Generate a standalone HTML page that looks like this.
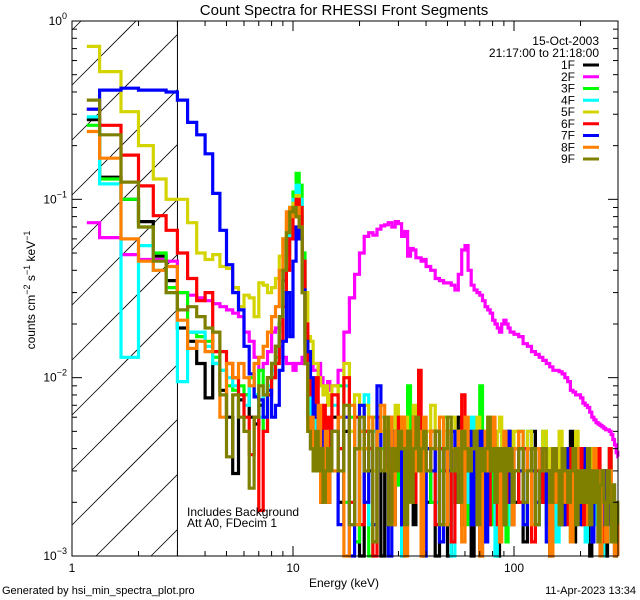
<!DOCTYPE html>
<html><head><meta charset="utf-8"><style>
html,body{margin:0;padding:0;background:#fff}
svg{display:block;font-family:"Liberation Sans",sans-serif}
</style></head><body>
<svg id="chart" width="640" height="600" viewBox="0 0 640 600" xmlns="http://www.w3.org/2000/svg">
<text x="344" y="15" font-size="15" text-anchor="middle">Count Spectra for RHESSI Front Segments</text>
<g id="hatch"></g>
<g id="series"></g>
<g id="axes"></g>
<text transform="translate(35,290) rotate(-90)" font-size="12" text-anchor="middle">counts cm<tspan dy="-5" font-size="9">−2</tspan><tspan dy="5"> s</tspan><tspan dy="-5" font-size="9">−1</tspan><tspan dy="5"> keV</tspan><tspan dy="-5" font-size="9">−1</tspan></text>
<text x="344" y="587" font-size="12" text-anchor="middle">Energy (keV)</text>
<text x="2" y="594" font-size="11">Generated by hsi_min_spectra_plot.pro</text>
<text x="636" y="594" font-size="11" text-anchor="end">11-Apr-2023 13:34</text>
<text x="187" y="516" font-size="12">Includes Background</text>
<text x="187" y="527" font-size="12">Att A0, FDecim 1</text>
<text x="599" y="45" font-size="12" text-anchor="end">15-Oct-2003</text>
<text x="599" y="57" font-size="12" text-anchor="end">21:17:00 to 21:18:00</text>
<g id="legend"></g>
</svg>
<script>
// ---- data ----
const seriesNames = ["1F","2F","3F","4F","5F","6F","7F","8F","9F"];
const seriesColors = ["#000000","#ff00ff","#00ff00","#00ffff","#d4d400","#ff0000","#0000ff","#ff8000","#808000"];
// low-energy bins: first bin 1.17-1.33, then 1/3 keV bins to 15 keV (42 bins)
const lowBinStart = 1.1667;
const lowBinStep = 1/3;
// high-energy bin groups: [start, end, step]
const highBinGroups = [[15,40,1],[40,100,2],[100,300,5]];
const highUnit = 0.001; // high-energy values are given in units of 1e-3
const low1F = [0.28,0.133,0.10,0.075,0.048,0.035,0.019,0.016,0.012,0.0077,0.012,0.0085,0.006,0.0029,0.0075,0.008,0.006,0.0055,0.007,0.008,0.010,0.012,0.015,0.020,0.035,0.060,0.08,0.09,0.09,0.08,0.035,0.012,0.006,0.004,0.003,0.005,0.004,0.002,0.003,0.004,0.002,0.003];
const low2F = [0.074,0.061,0.049,0.046,0.046,0.045,0.030,0.029,0.028,0.027,0.026,0.025,0.024,0.023,0.022,0.018,0.016,0.013,0.011,0.012,0.014,0.018,0.019,0.015,0.013,0.012,0.012,0.011,0.012,0.012,0.013,0.012,0.011,0.012,0.011,0.011,0.012,0.010,0.009,0.009,0.0095,0.0085];
const low3F = [0.26,0.13,0.10,0.07,0.05,0.032,0.030,0.018,0.017,0.016,0.013,0.011,0.009,0.0085,0.009,0.008,0.010,0.008,0.011,0.005,0.009,0.010,0.013,0.020,0.040,0.06,0.09,0.11,0.14,0.12,0.05,0.015,0.007,0.005,0.004,0.006,0.003,0.005,0.004,0.003,0.005,0.003];
const low4F = [0.29,0.122,0.013,0.055,0.04,0.030,0.0095,0.018,0.018,0.015,0.012,0.011,0.010,0.009,0.008,0.007,0.009,0.008,0.006,0.008,0.009,0.011,0.014,0.018,0.030,0.050,0.08,0.10,0.12,0.10,0.045,0.015,0.008,0.006,0.005,0.006,0.004,0.006,0.005,0.003,0.004,0.003];
const low5F = [0.72,0.52,0.31,0.20,0.13,0.10,0.10,0.074,0.05,0.046,0.049,0.042,0.041,0.032,0.025,0.029,0.028,0.022,0.034,0.033,0.030,0.032,0.036,0.048,0.060,0.075,0.09,0.095,0.105,0.085,0.040,0.030,0.017,0.016,0.012,0.012,0.010,0.009,0.008,0.009,0.007,0.008];
const low6F = [0.32,0.26,0.177,0.119,0.081,0.067,0.05,0.036,0.027,0.030,0.014,0.014,0.012,0.010,0.008,0.006,0.0037,0.006,0.0018,0.005,0.008,0.010,0.012,0.016,0.025,0.040,0.06,0.08,0.10,0.09,0.045,0.020,0.010,0.008,0.006,0.010,0.005,0.004,0.007,0.003,0.006,0.004];
const low7F = [0.32,0.41,0.42,0.41,0.41,0.40,0.36,0.27,0.23,0.18,0.108,0.067,0.043,0.030,0.024,0.015,0.0105,0.0078,0.0075,0.006,0.0085,0.006,0.007,0.011,0.016,0.030,0.017,0.045,0.07,0.06,0.031,0.016,0.014,0.010,0.006,0.007,0.005,0.004,0.005,0.003,0.004,0.003];
const low8F = [0.24,0.17,0.06,0.045,0.040,0.042,0.021,0.0146,0.016,0.014,0.018,0.006,0.012,0.010,0.012,0.010,0.009,0.012,0.013,0.015,0.018,0.022,0.025,0.040,0.060,0.085,0.09,0.08,0.09,0.07,0.030,0.012,0.005,0.006,0.003,0.004,0.007,0.002,0.003,0.005,0.002,0.004];
const low9F = [0.36,0.23,0.125,0.07,0.045,0.030,0.024,0.025,0.022,0.019,0.018,0.008,0.0036,0.008,0.006,0.005,0.0024,0.006,0.009,0.008,0.010,0.012,0.015,0.022,0.040,0.065,0.085,0.09,0.08,0.07,0.030,0.012,0.005,0.004,0.003,0.005,0.003,0.004,0.002,0.003,0.004,0.003];
const high1F = [6,2,5,1.5,4,0.8,5,3,1.2,4,0.7,3,6,1.5,4,3,0.9,4,2.5,5,1.5,3,4,0.8,3, 2,5,1,4,3,0.8,4,2,6,1.5,3,5,1,4,2.5,0.7,4,3,1.5,5,2,3,0.9,4,2.5,1.5,3,5,2,3, 2,4,1.2,3,5,1.5,3,2,4,0.8,3,2.5,4,1.5,3,2,5,1.2,3,2,4,1.5,2.5,3,1,3,2,4,1.2,2.5,2,3,0.7,2.5,2,1.5,2.5,1,1.5,0.6];
const high2F = [9,11,18,28,38,50,62,65,63,68,71,72,74,70,75,73,62,66,48,53,52,47,47,45,46, 42,40,36,35,34,34,33,31,38,52,55,40,33,31,30,29,27,25,24,23,21,20,19,18,20,21,20,19,18,18, 17.5,17,15.5,15,14,13.5,13,12.5,12,11.5,11,11,10.8,10.5,10,9.5,8.5,8.3,8,8,7.7,7.2,7,6.8,6.4,6,5.8,5.6,5.5,5.4,5.3,5.2,5.1,5.1,5,4.8,4.5,4.2,3.8,3.6];
const high3F = [5,9,2,6,1.2,5,4,0.8,6,3,4,5,1.5,4,2.5,5,4,2,9,4,2,5,4,1.5,5, 4,2,5,3,6,1.5,4,2,5,4,1.5,4,5,2,4,9,3,2,4,5,1.5,3,4,2,5,3,1.2,4,3,2, 3,5,1.5,4,3,2,4,5,1.5,3,2,4,1.5,3,2.5,4,1.2,3,2,4,2,3,1.5,2.5,3,1.2,3,2,2.5,1.5,3,2,1.2,2.5,4,1.5,2,1.2,1,0.8];
const high4F = [7,4,9,2,6,4,8,1.5,5,3,6,4,1.5,5,3,4,0.7,5,3,4,6,3,5,4,0.8, 4,5,2,4,3,5,1,4,3,5,2,4,6,3,1.5,4,3,5,2,4,3,1,4,3,5,2,3,4,1.5,3, 3,4,2,5,3,1.5,4,3,2,4,3,1.2,3,4,2,3,2.5,4,1.5,3,2,3,1.2,3,2,4,1.5,2.5,2,3,1,2.5,2,1.5,2.5,1.2,2,1.5,1,0.8];
const high5F = [9,6,12,5,8,4,7,6,3,7,5,4,6,3,7,5,4,6,5,4,7,5,6,4,5, 5,7,4,6,5,3,6,5,4,5,6,4,5,3,6,4,5,4,6,3,5,4,5,6,4,5,3,4,5,4, 5,4,3,5,4,3,4,5,3,4,4,3,5,3,4,3,4,3,5,3,4,3,4,3,4,3,3,4,3,2.5,3,2.5,3,2,2.5,2,1.5,1.5,1.2,1];
const high6F = [8,4,10,2,6,1.5,5,4,1,6,3,5,1.5,4,3,6,1.5,4,3,5,2,4,11,3,4, 3,5,1.5,4,3,5,1.2,4,3,8,3,4,1.5,4,3,5,2,4,1.5,3,4,3,1.5,4,3,3,2,4,3,1.5, 3,2,4,3,1.2,3,4,2,3,1.5,4,3,2,3,1.5,4,3,2,3,2,4,1.5,3,2,3,1.5,3,2,4,2,3,1.2,3,2,4,1.5,2,1.2,1.5,1];
const high7F = [5,1.5,6,0.7,4,7,2,5,1.5,9,3,4,1,5,3,4,1.5,5,3,4,6,3,5,4,0.9, 4,3,5,1.2,4,3,5,4,2,4,3,5,1.5,4,3,5,3,1.2,4,3,5,2,4,3,1.5,4,3,5,2,3, 4,3,1.5,4,3,2,4,3,1.2,3,4,2,3,1.5,4,3,2,3,4,1.5,3,2,4,2,3,1.2,3,2.5,2,3,1.5,3,2,2.5,1.5,2,1.2,1.5,1,0.7];
const high8F = [3,6,1,7,1.5,5,4,6,1.2,5,7,3,6,1.5,5,4,6,0.8,5,4,6,3,5,1,6, 3,5,4,6,1.5,5,4,3,5,1.2,6,3,4,5,3,0.8,4,5,3,4,6,3,4,1.2,4,5,3,4,3,1.5, 4,5,3,4,1.5,4,3,4,3,0.9,4,2,3,4,2,3,1.2,3,4,2,3,2,3,1.5,3,2,4,2,3,1,3,2,1.2,2,3,1.5,2,1,1.5,0.8];
const high9F = [5,3,7,1.5,4,6,3,5,1.2,4,3,6,1.5,4,3,5,4,1.5,5,2,4,6,3,4,5, 3,4,5,1.5,4,6,3,4,2,5,4,3,4,5,1.5,4,3,4,6,3,4,2,4,3,4,1.5,4,3,4,2, 3,4,2,3,4,1.5,3,4,3,2,4,3,1.5,4,3,2,3,4,1.5,3,2,3,2,4,1.5,3,2,3,1.2,2.5,3,2,1.5,3,2,1.2,2.5,1.2,2,1.5];
const lowSeries = [low1F,low2F,low3F,low4F,low5F,low6F,low7F,low8F,low9F];
const highSeries = [high1F,high2F,high3F,high4F,high5F,high6F,high7F,high8F,high9F];
const xTickLabels = ["1","10","100"];
const yTickExponents = ["0","−1","−2","−3"];

// ---- axes geometry ----
const PL=72, PR=618, PT=21, PB=556;
const xMin=1, xMax=Math.pow(10,(PR-PL)/221);
const yMinLog=-3, yMaxLog=0;
function xs(e){return PL+(Math.log10(e)-Math.log10(xMin))/(Math.log10(xMax)-Math.log10(xMin))*(PR-PL);}
function ys(v){let l=Math.log10(Math.max(v,1e-4));let y=PT+(yMaxLog-l)/(yMaxLog-yMinLog)*(PB-PT);return Math.min(Math.max(y,PT),PB);}
const NS="http://www.w3.org/2000/svg";
function mk(tag,attrs,parent){const el=document.createElementNS(NS,tag);for(const k in attrs)el.setAttribute(k,attrs[k]);parent.appendChild(el);return el;}

// bin edges
const edges=[lowBinStart];
for(let k=0;k<=41;k++) edges.push(4/3+k*lowBinStep);
for(const g of highBinGroups){for(let e=g[0]+g[2];e<=g[1]+1e-9;e+=g[2]) edges.push(e);}

// hatch
const hatch=document.getElementById('hatch');
const hx1=PL, hx2=xs(3);
for(let c=85-55*10;c<PB+200;c+=55){
  let x0=hx1,y0=c; let x1=hx2,y1=c-(hx2-hx1);
  if(y0>PB){x0=hx1+(y0-PB);y0=PB;}
  if(y1<PT){x1=hx1+(c-PT);y1=PT;}
  if(x0>=x1) continue;
  const ln=mk('line',{x1:x0,y1:y0,x2:x1,y2:y1,stroke:'#000','stroke-width':0.8},hatch);
  
  
}
const vl=mk('line',{x1:hx2,y1:PT,x2:hx2,y2:PB,stroke:'#000','stroke-width':1},hatch);



// series
const sg=document.getElementById('series');
for(let s=0;s<seriesNames.length;s++){
  const vals=lowSeries[s].concat(highSeries[s].map(v=>v*highUnit));
  const n=Math.min(vals.length,edges.length-1);
  let d='';
  for(let i=0;i<n;i++){
    const xa=xs(edges[i]), xb=Math.min(xs(edges[i+1]),PR), y=ys(vals[i]);
    d+=(i===0?'M':'L')+xa.toFixed(1)+','+y.toFixed(1)+'L'+xb.toFixed(1)+','+y.toFixed(1);
    if(xb>=PR) break;
  }
  const p=mk('path',{d:d,fill:'none',stroke:seriesColors[s],'stroke-width':3.2,'stroke-linejoin':'miter'},sg);
  
  
}

// axes
const ax=document.getElementById('axes');
const frame=mk('rect',{x:PL,y:PT,width:PR-PL,height:PB-PT,fill:'none',stroke:'#000','stroke-width':1},ax);


for(let dec=0;dec<3;dec++){
  for(let m=1;m<10;m++){
    const e=Math.pow(10,dec)*m; if(e>xMax) break;
    const x=xs(e), L=(m===1)?10:5;
    const t1=mk('line',{x1:x,y1:PB,x2:x,y2:PB-L,stroke:'#000'},ax);
    
    
    const t2=mk('line',{x1:x,y1:PT,x2:x,y2:PT+L,stroke:'#000'},ax);
    
    
    if(m===1){
      const tl=mk('text',{x:x,y:PB+16,'font-size':12,'text-anchor':'middle'},ax);
      tl.textContent=xTickLabels[dec];
      
      
    }
  }
}
for(let dec=-3;dec<=0;dec++){
  for(let m=1;m<10;m++){
    if(dec===0&&m>1) break;
    const v=Math.pow(10,dec)*m, y=ys(v), L=(m===1)?10:5;
    const t1=mk('line',{x1:PL,y1:y,x2:PL+L,y2:y,stroke:'#000'},ax);
    
    
    const t2=mk('line',{x1:PR,y1:y,x2:PR-L,y2:y,stroke:'#000'},ax);
    
    
    if(m===1){
      const tl=mk('text',{x:PL-5,y:y+4,'font-size':12,'text-anchor':'end'},ax);
      
      
      const b=mk('tspan',{},tl); b.textContent='10';
      const sup=mk('tspan',{dy:-6,'font-size':9},tl); sup.textContent=yTickExponents[-dec];
    }
  }
}

// legend
const lg=document.getElementById('legend');
for(let s=0;s<seriesNames.length;s++){
  const y=65+s*11.75;
  const t=mk('text',{x:575,y:y+4,'font-size':12,'text-anchor':'end'},lg);
  t.textContent=seriesNames[s];
  
  
  const l=mk('line',{x1:583,y1:y,x2:599,y2:y,stroke:seriesColors[s],'stroke-width':3},lg);
  
  
}
</script>
</body></html>
